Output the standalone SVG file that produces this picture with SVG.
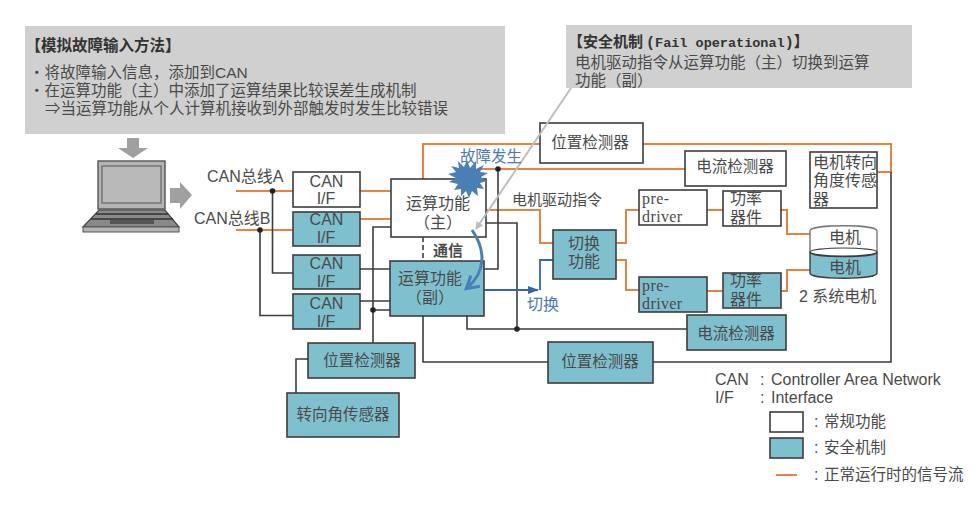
<svg xmlns="http://www.w3.org/2000/svg" width="980" height="506" viewBox="0 0 980 506">
<style>
text{font-family:"Liberation Sans","Noto Sans CJK SC",sans-serif;fill:#4a4a4a;font-size:16px}
.m{text-anchor:middle}
.w{fill:#fff;stroke:#3c3c3c;stroke-width:1.6}
.t{fill:#7fc0cf;stroke:#3c3c3c;stroke-width:1.6}
.g{fill:#d0d0d0}
.o{fill:none;stroke:#e8833f;stroke-width:2}
.k{fill:none;stroke:#3c3c3c;stroke-width:1.6}
.b{fill:none;stroke:#2f67ad;stroke-width:1.8}
.dot{fill:#222}
.a{fill:#a0a0a0}
text.s{font-size:15.500px}
text.h{font-size:15.500px;font-weight:bold;fill:#333}
text.p{font-family:"Liberation Serif",serif;font-size:16px;letter-spacing:.4px}
text.u{fill:#4a78b8}
</style>
<defs>
<marker id="ah" markerWidth="12" markerHeight="8" refX="10" refY="4" orient="auto" markerUnits="userSpaceOnUse"><path d="M0 0L11 4L0 8Z" fill="#2f67ad"/></marker>
<marker id="ac" markerWidth="16" markerHeight="16" refX="12" refY="8" orient="auto" markerUnits="userSpaceOnUse"><path d="M1 1L13 8L1 15" fill="none" stroke="#4a7fb5" stroke-width="3"/></marker>
<marker id="ag" markerWidth="10" markerHeight="10" refX="7" refY="5" orient="auto" markerUnits="userSpaceOnUse"><path d="M0 1L8 5L0 9Z" fill="#bdbdbd"/></marker>
</defs>

<g id="note-input">
<rect class="g" x="25" y="26" width="480" height="108"/>
<text class="h" x="25.500" y="51">【模拟故障输入方法】</text>
<text class="s" x="29" y="78">・将故障输入信息&#xFF0C;添加到CAN</text>
<text class="s" x="29" y="96">・在运算功能&#xFF08;主&#xFF09;中添加了运算结果比较误差生成机制</text>
<text class="s" x="45" y="114">⇒当运算功能从个人计算机接收到外部触发时发生比较错误</text>
</g>
<g id="note-safety">
<rect class="g" x="566" y="25" width="346" height="63"/>
<text class="h" x="568" y="47" style="font-size:15px;font-family:'Liberation Mono','Noto Sans CJK SC',monospace">【安全机制<tspan dx="3">(</tspan><tspan style="font-size:13.500px">Fail operational</tspan>)】</text>
<text class="s" x="575" y="68">电机驱动指令从运算功能&#xFF08;主&#xFF09;切换到运算</text>
<text class="s" x="575" y="86">功能&#xFF08;副&#xFF09;</text>
</g>

<g id="laptop">
<path class="a" d="M127 138H139V148H148L133 158L118 148H127Z"/>
<path class="a" d="M170 188H180V182L192 195L180 209V203H170Z"/>
<rect x="98" y="161" width="67" height="48" fill="#b4b4b4" stroke="#555" stroke-width="1.4"/>
<rect x="102" y="166" width="59" height="37" fill="#b9b9b9" stroke="#666" stroke-width="1.2"/>
<path d="M99 210H165L179 227H83Z" fill="#8a8a8a" stroke="#444" stroke-width="1.2"/>
<path d="M96 214H168M91 219H173" stroke="#333" stroke-width="1.4" fill="none"/>
<rect x="110" y="220" width="44" height="4" fill="#555"/>
<rect x="83" y="227" width="96" height="5" fill="#b4b4b4" stroke="#555" stroke-width="1"/>
</g>

<g id="connectors">
<path class="o" d="M236 191H293M236 230H293M360 191H391M360 219H391"/>
<path class="o" d="M423 179V144H540M643 144H891V172H877"/>
<path class="o" d="M480 169H685"/>
<path class="o" d="M486 210H540V243H553"/>
<path class="o" d="M616 243H626V210H639M616 260H626V290H639M707 210H723M707 291H723"/>
<path class="o" d="M781 210H787V234H810M781 291H787V270H810"/>
<path class="k" d="M272.500 191V273H293M260 230V315.500H293"/>
<path class="k" d="M360 269H390M360 301H390M373 310H390M391 227H373V343"/>
<path class="k" d="M498 169V269H484M486 223H517V329"/>
<path class="k" d="M467 316V329H687M423 316V362H548M653 362H891V172"/>
<path class="k" d="M308 359H296V393"/>
<path class="k" d="M423 237V261" stroke-dasharray="5 3"/>
<path class="b" d="M484 290H538" marker-end="url(#ah)"/>
<path class="b" d="M540 290V260H553"/>
<circle class="dot" cx="272.500" cy="191" r="2.800"/>
<circle class="dot" cx="260" cy="230" r="2.800"/>
<circle class="dot" cx="373" cy="310" r="2.800"/>
<circle class="dot" cx="498" cy="169" r="2.800"/>
<circle class="dot" cx="517" cy="329" r="2.800"/>
</g>

<g id="can-a"><rect class="w" x="293" y="172" width="67" height="35"/><text class="m" x="326.500" y="187">CAN</text><text class="m" x="326" y="204">I/F</text></g>
<g id="can-b"><rect class="t" x="293" y="212" width="67" height="34"/><text class="m" x="326.500" y="225">CAN</text><text class="m" x="326" y="243">I/F</text></g>
<g id="can-c"><rect class="t" x="293" y="255" width="67" height="34"/><text class="m" x="326.500" y="269">CAN</text><text class="m" x="326" y="287">I/F</text></g>
<g id="can-d"><rect class="t" x="293" y="294" width="67" height="35"/><text class="m" x="326.500" y="309">CAN</text><text class="m" x="326" y="327">I/F</text></g>
<g id="calc-main"><rect class="w" x="391" y="179" width="95" height="58"/><text class="m" x="438" y="209">运算功能</text><text class="m" x="438" y="228">&#xFF08;主&#xFF09;</text></g>
<g id="calc-sub"><rect class="t" x="390" y="261" width="94" height="55"/><text class="m" x="430" y="284">运算功能</text><text class="m" x="430" y="303">&#xFF08;副&#xFF09;</text></g>
<g id="pos-top"><rect class="w" x="540" y="123" width="103" height="40"/><text class="m s" x="590" y="148">位置检测器</text></g>
<g id="cur-top"><rect class="w" x="685" y="151" width="101" height="35"/><text class="m s" x="735" y="172">电流检测器</text></g>
<g id="motor-sensor"><rect class="w" x="810" y="152" width="67" height="56"/><text x="813" y="168">电机转向</text><text x="813" y="186">角度传感</text><text x="813" y="205">器</text></g>
<g id="predriver-top"><rect class="w" x="639" y="190" width="68" height="35"/><text class="p" x="642" y="204">pre-</text><text class="p" x="642" y="222">driver</text></g>
<g id="power-top"><rect class="w" x="723" y="191" width="58" height="35"/><text class="m" x="746" y="204">功率</text><text class="m" x="746" y="223">器件</text></g>
<g id="switch"><rect class="t" x="553" y="230" width="63" height="49"/><text class="m" x="584" y="249">切换</text><text class="m" x="584" y="267">功能</text></g>
<g id="predriver-bottom"><rect class="t" x="639" y="277" width="68" height="35"/><text class="p" x="642" y="291">pre-</text><text class="p" x="642" y="309">driver</text></g>
<g id="power-bottom"><rect class="t" x="723" y="273" width="58" height="35"/><text class="m" x="746" y="286">功率</text><text class="m" x="746" y="305">器件</text></g>
<g id="cur-bottom"><rect class="t" x="687" y="315" width="99" height="35"/><text class="m s" x="736" y="339">电流检测器</text></g>
<g id="pos-bottom"><rect class="t" x="548" y="342" width="105" height="41"/><text class="m s" x="600" y="367">位置检测器</text></g>
<g id="pos-left"><rect class="t" x="308" y="343" width="107" height="35"/><text class="m s" x="362" y="366">位置检测器</text></g>
<g id="steer-sensor"><rect class="t" x="287" y="393" width="112" height="44"/><text class="m s" x="343" y="420">转向角传感器</text></g>
<g id="motor">
<path d="M810 252V231C810 224 877 224 877 231V252Z" fill="#fff" stroke="#777" stroke-width="1.4"/>
<path d="M810 252C810 258 877 258 877 252V273C877 280 810 280 810 273Z" fill="#7fc0cf" stroke="#3c3c3c" stroke-width="1.4"/>
<ellipse cx="843.500" cy="252" rx="33.500" ry="4" fill="#fff" stroke="#3c3c3c" stroke-width="1.2"/>
<text class="m" x="845" y="243">电机</text>
<text class="m" x="845" y="273">电机</text>
</g>

<g id="fault">
<path d="M571 88L476 229" fill="none" stroke="#bdbdbd" stroke-width="2" marker-end="url(#ag)"/>
<path fill="#4a7fb5" d="M467 160L470 168L476 161L476 169L484 165L480 172L488 173L481 177L487 181L480 183L484 189L477 188L478 196L472 191L469 198L466 191L461 196L461 189L454 190L458 184L449 182L456 178L448 174L456 172L451 166L459 168L458 161L464 167Z"/>
<path d="M472 230C486 250 486 272 467 288" fill="none" stroke="#4a7fb5" stroke-width="3" marker-end="url(#ac)"/>
<text class="s u" x="460" y="162">故障发生</text>
</g>

<g id="labels">
<text x="207" y="182">CAN总线A</text>
<text x="194" y="224">CAN总线B</text>
<text x="512" y="205" style="font-size:15px">电机驱动指令</text>
<text x="433" y="256" style="font-weight:bold;font-size:15px">通信</text>
<text class="u" x="527" y="310">切换</text>
<text x="799" y="302">2 系统电机</text>
<text x="715" y="385">CAN</text><text x="760" y="385">:</text><text x="771" y="385">Controller Area Network</text>
<text x="715" y="403">I/F</text><text x="760" y="403">:</text><text x="771" y="403">Interface</text>
</g>

<g id="legend">
<rect class="w" x="770" y="412" width="33" height="20"/>
<text x="814" y="427">:</text><text class="s" x="824" y="427">常规功能</text>
<rect class="t" x="770" y="438" width="33" height="20"/>
<text x="814" y="453">:</text><text class="s" x="824" y="453">安全机制</text>
<path class="o" d="M776 475H797" stroke-width="2.400"/>
<text x="814" y="480">:</text><text class="s" x="824" y="480">正常运行时的信号流</text>
</g>
</svg>
